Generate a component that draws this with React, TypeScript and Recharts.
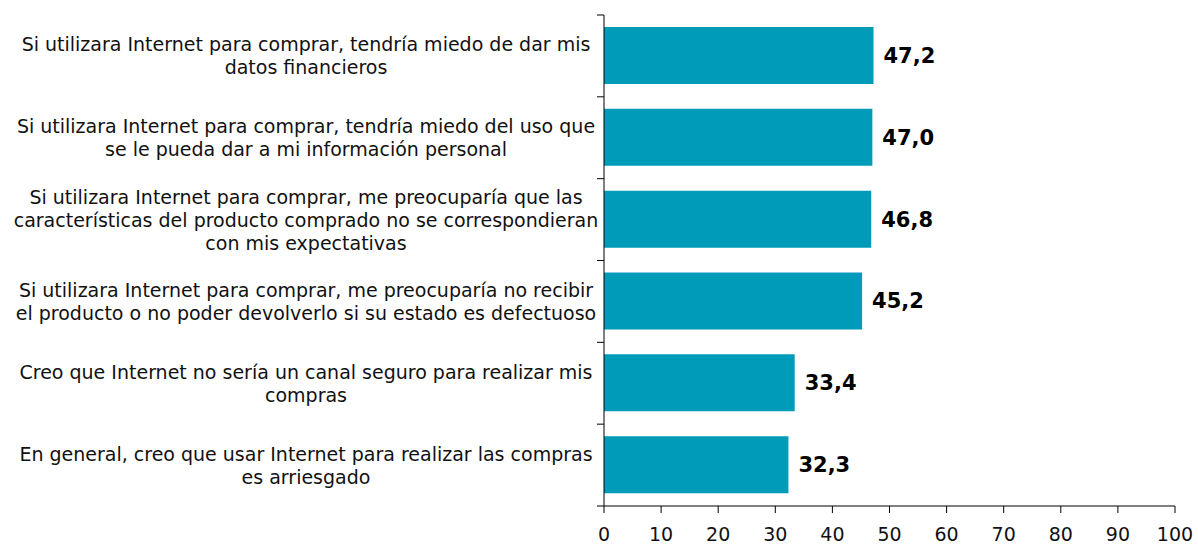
import React from 'react';
import { BarChart, Bar, XAxis, YAxis, LabelList } from 'recharts';

const categories: string[][] = [
  ['Si utilizara Internet para comprar, tendría miedo de dar mis', 'datos financieros'],
  ['Si utilizara Internet para comprar, tendría miedo del uso que', 'se le pueda dar a mi información personal'],
  ['Si utilizara Internet para comprar, me preocuparía que las', 'características del producto comprado no se correspondieran', 'con mis expectativas'],
  ['Si utilizara Internet para comprar, me preocuparía no recibir', 'el producto o no poder devolverlo si su estado es defectuoso'],
  ['Creo que Internet no sería un canal seguro para realizar mis', 'compras'],
  ['En general, creo que usar Internet para realizar las compras', 'es arriesgado'],
];
const values: number[] = [47.2, 47.0, 46.8, 45.2, 33.4, 32.3];
const xTicks: number[] = [0, 10, 20, 30, 40, 50, 60, 70, 80, 90, 100];

const W = 1198;
const H = 545;
const MARGIN = { top: 15, right: 23, bottom: 0, left: 0 };
const XAXIS_H = 39;
const YAXIS_W = 604;
const PLOT_H = H - MARGIN.top - MARGIN.bottom - XAXIS_H;
const BAND = PLOT_H / categories.length;
const FONT = '"DejaVu Sans", Verdana, sans-serif';

const data = categories.map((c, i) => ({ name: String(i), value: values[i] }));

const YTick = (props: any) => {
  const { x, y, payload, index } = props;
  const idx = Number(payload.value);
  const lines = categories[idx] || [];
  const lh = 23;
  const axisX = x;
  const cx = axisX - 298;
  const startY = y - ((lines.length - 1) * lh) / 2;
  return (
    <g>
      {index === 0 && (
        <line x1={axisX - 7} x2={axisX} y1={y - BAND / 2} y2={y - BAND / 2} stroke="#000" strokeWidth={1} />
      )}
      <line x1={axisX - 7} x2={axisX} y1={y + BAND / 2} y2={y + BAND / 2} stroke="#000" strokeWidth={1} />
      <text x={cx} y={startY} textAnchor="middle" dominantBaseline="central" fontFamily={FONT} fontSize={19} fill="#111">
        {lines.map((l, i) => (
          <tspan key={i} x={cx} y={startY + i * lh} dominantBaseline="central">
            {l}
          </tspan>
        ))}
      </text>
    </g>
  );
};

export default function App() {
  return (
    <div style={{ position: 'absolute', left: 0, top: 0, width: W, height: H, background: '#fff' }}>
      <BarChart width={W} height={H} data={data} layout="vertical" margin={MARGIN}>
        <XAxis
          type="number"
          domain={[0, 100]}
          ticks={xTicks}
          interval={0}
          height={XAXIS_H}
          axisLine={{ stroke: '#000' }}
          tickLine={{ stroke: '#000' }}
          tickSize={7}
          tick={{ fontFamily: FONT, fontSize: 19, fill: '#111' }}
          tickMargin={15}
        />
        <YAxis
          type="category"
          dataKey="name"
          width={YAXIS_W}
          axisLine={{ stroke: '#000' }}
          tickLine={false}
          tickSize={0}
          tickMargin={0}
          tick={<YTick />}
          interval={0}
        />
        <Bar dataKey="value" fill="#009BB9" barSize={57} isAnimationActive={false}>
          <LabelList
            dataKey="value"
            position="right"
            offset={10}
            formatter={(v: any) => Number(v).toFixed(1).replace('.', ',')}
            style={{ fontFamily: FONT, fontSize: 21, fontWeight: 'bold', fill: '#000' }}
          />
        </Bar>
      </BarChart>
    </div>
  );
}
